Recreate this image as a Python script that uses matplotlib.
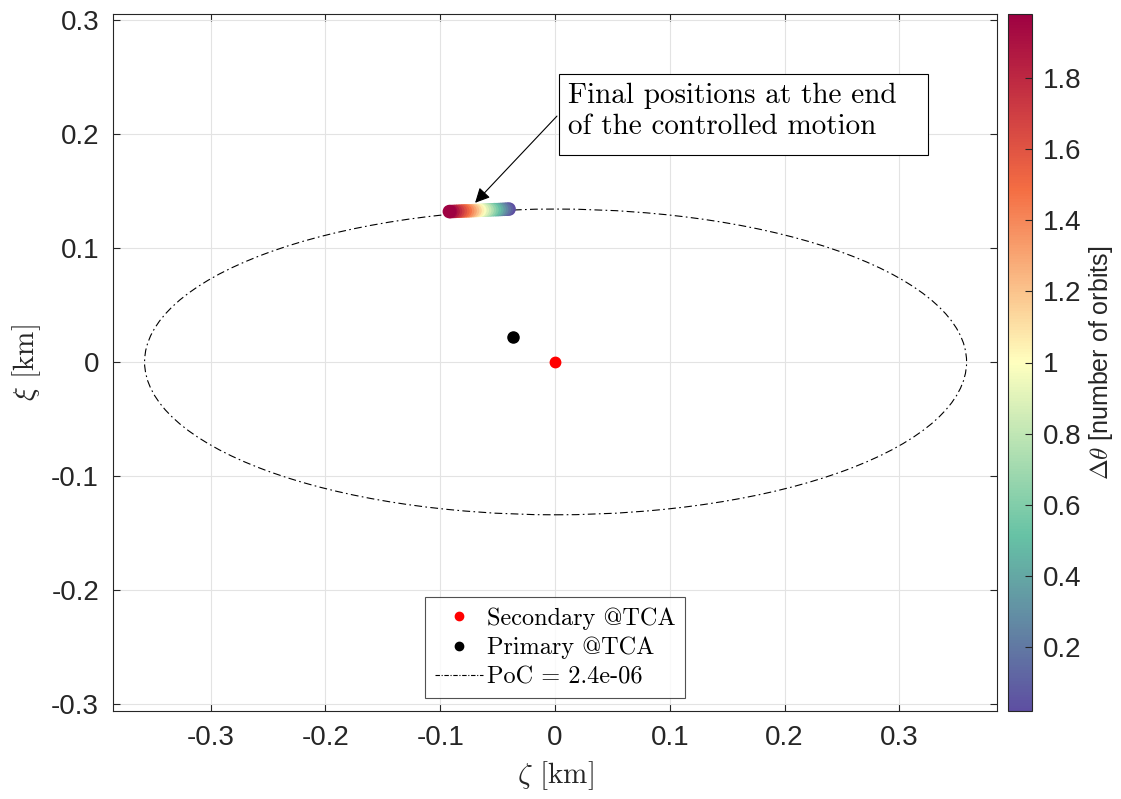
import matplotlib
matplotlib.use('Agg')
import matplotlib.pyplot as plt
from matplotlib.patches import Ellipse, Rectangle
from matplotlib.lines import Line2D
from matplotlib.colors import LinearSegmentedColormap
from matplotlib.ticker import FuncFormatter, MultipleLocator

plt.rcParams['font.family'] = ['Liberation Sans', 'DejaVu Sans']
plt.rcParams['mathtext.fontset'] = 'cm'

# final positions along the ellipse (zeta, xi) in km, coloured by delta theta
final_dtheta = [0.02, 0.10, 0.18, 0.26, 0.34, 0.42, 0.50, 0.58, 0.66, 0.74,
                0.82, 0.90, 0.98, 1.06, 1.14, 1.22, 1.30, 1.38, 1.46, 1.54,
                1.62, 1.70, 1.78, 1.86, 1.94, 1.98]
final_zeta = [-0.0400, -0.0421, -0.0442, -0.0464, -0.0485, -0.0506, -0.0527,
              -0.0549, -0.0570, -0.0591, -0.0612, -0.0633, -0.0655, -0.0676,
              -0.0697, -0.0718, -0.0740, -0.0761, -0.0782, -0.0803, -0.0824,
              -0.0846, -0.0867, -0.0888, -0.0909, -0.0920]
final_xi = [0.1340, 0.1339, 0.1338, 0.1337, 0.1336, 0.1335, 0.1335, 0.1334,
            0.1333, 0.1332, 0.1331, 0.1330, 0.1329, 0.1328, 0.1327, 0.1326,
            0.1325, 0.1324, 0.1324, 0.1323, 0.1322, 0.1321, 0.1320, 0.1319,
            0.1318, 0.1318]

secondary = (0.0, 0.0)
primary = (-0.0368, 0.0215)

# PoC contour ellipse
ell_center = (0.0005, 0.0)
ell_width = 0.716
ell_height = 0.268
ell_angle = 0.0
poc_label = 'PoC = 2.4e-06'

cbar_ticks = [0.2, 0.4, 0.6, 0.8, 1.0, 1.2, 1.4, 1.6, 1.8]
cmap_colors = ['#5e4fa2', '#66c2a5', '#ffffbf', '#f46d43', '#9e0142']

serif = ['cmr10', 'DejaVu Serif']
dark = '#262626'

cmap = LinearSegmentedColormap.from_list('spec5', cmap_colors)

fig = plt.figure(figsize=(11.21, 7.99), dpi=100)
ax = fig.add_axes([113 / 1121, 1 - 711 / 799, 884 / 1121, 697 / 799])
cax = fig.add_axes([1008 / 1121, 1 - 711 / 799, 24 / 1121, 697 / 799])

ell = Ellipse(ell_center, ell_width, ell_height, angle=ell_angle, fill=False,
              edgecolor='black', linewidth=0.8, linestyle=(0, (7, 3, 1.5, 3)))
ax.add_patch(ell)

sc = ax.scatter(final_zeta, final_xi, c=final_dtheta, cmap=cmap,
                vmin=0.02, vmax=1.98, s=95, edgecolors='none', zorder=3)

ax.plot(secondary[0], secondary[1], 'o', color='red', markersize=7.5, zorder=4)
ax.plot(primary[0], primary[1], 'o', color='black', markersize=8, zorder=4)

ax.set_xlim(-0.385, 0.385)
ax.set_ylim(-0.306, 0.305)
ax.xaxis.set_major_locator(MultipleLocator(0.1))
ax.yaxis.set_major_locator(MultipleLocator(0.1))
fmt = FuncFormatter(lambda v, p: '%g' % round(v, 6))
ax.xaxis.set_major_formatter(fmt)
ax.yaxis.set_major_formatter(fmt)
ax.grid(True, color='#e3e3e3', linewidth=0.8)
ax.set_axisbelow(True)
ax.tick_params(direction='in', length=5, labelsize=20, colors=dark,
               top=True, right=True, pad=10)
for s in ax.spines.values():
    s.set_color(dark)
    s.set_linewidth(0.8)

ax.set_xlabel(r'$\zeta$ [km]', fontsize=21, family=serif, color=dark, labelpad=6)
ax.set_ylabel(r'$\xi$ [km]', fontsize=21, family=serif, color=dark, labelpad=6)

handles = [
    Line2D([], [], marker='o', color='red', linestyle='none', markersize=6),
    Line2D([], [], marker='o', color='black', linestyle='none', markersize=6),
    Line2D([], [], color='black', linewidth=0.8, linestyle=(0, (4, 1.5, 1, 1.5))),
]
labels = ['Secondary @TCA', 'Primary @TCA', poc_label]
leg = ax.legend(handles, labels, loc='lower center', bbox_to_anchor=(0.5, 0.018),
                prop={'family': serif, 'size': 17.5}, frameon=True, fancybox=False,
                edgecolor=dark, handlelength=2.0, handletextpad=0.15,
                borderpad=0.4, labelspacing=0.3, borderaxespad=0)
leg.get_frame().set_linewidth(0.8)

# annotation: arrow and text box
ax.annotate('', xy=(-0.0696, 0.1395), xytext=(0.0017, 0.2155),
            arrowprops=dict(arrowstyle='-|>', color='black', lw=0.8,
                            mutation_scale=22, shrinkA=0, shrinkB=0))
ax.add_patch(Rectangle((0.0035, 0.1816), 0.3215, 0.0704, facecolor='white',
                       edgecolor='black', linewidth=0.8, zorder=5))
ax.text(0.0110, 0.2445, 'Final positions at the end\nof the controlled motion',
        family=serif, fontsize=21, va='top', ha='left', linespacing=1.2,
        zorder=6)

cb = fig.colorbar(sc, cax=cax)
cb.set_ticks(cbar_ticks)
cb.ax.yaxis.set_major_formatter(fmt)
cb.ax.tick_params(direction='in', length=5, labelsize=20, colors=dark, pad=8)
cb.outline.set_edgecolor(dark)
cb.outline.set_linewidth(0.8)
cb.set_label(r'$\Delta\theta$ [number of orbits]', fontsize=18, color=dark,
             labelpad=4)

fig.savefig('out.png', dpi=100)
